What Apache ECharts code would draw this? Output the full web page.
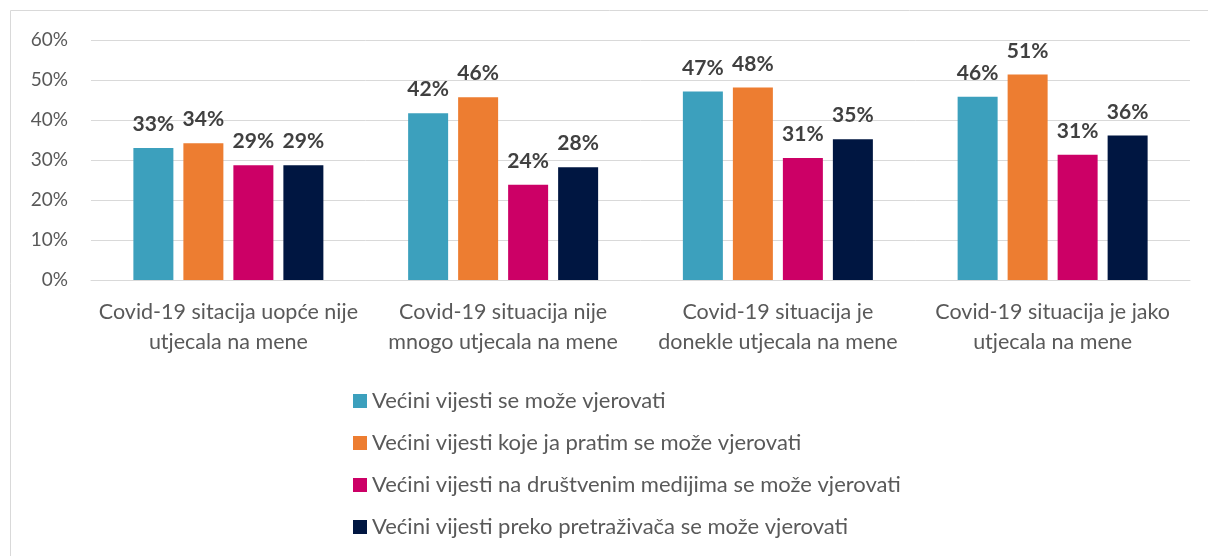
<!DOCTYPE html>
<html>
<head>
<meta charset="utf-8">
<script src="https://cdn.jsdelivr.net/npm/echarts@6/dist/echarts.min.js"></script>
<style>
  html, body { margin: 0; padding: 0; background: #fff; }
  #chart { width: 1208px; height: 556px; }
</style>
</head>
<body>
<div id="chart"></div>
<script>
var categories = [
    'Covid-19 sitacija uopće nije\nutjecala na mene',
    'Covid-19 situacija nije\nmnogo utjecala na mene',
    'Covid-19 situacija je\ndonekle utjecala na mene',
    'Covid-19 situacija je jako\nutjecala na mene'
];
var seriesNames = [
    'Većini vijesti se može vjerovati',
    'Većini vijesti koje ja pratim se može vjerovati',
    'Većini vijesti na društvenim medijima se može vjerovati',
    'Većini vijesti preko pretraživača se može vjerovati'
];
var allNews = [33.0, 41.7, 47.1, 45.8];
var myNews = [34.2, 45.7, 48.1, 51.4];
var socialNews = [28.7, 23.8, 30.5, 31.3];
var searchNews = [28.7, 28.2, 35.2, 36.1];
var colors = ['#3ca0bd', '#ed7d31', '#cc0066', '#001641'];

var font = 'Lato, "Open Sans", sans-serif';
var chart = echarts.init(document.getElementById('chart'));

function makeSeries(name, data, color) {
    return {
        name: name,
        type: 'bar',
        data: data,
        barWidth: 40,
        barGap: '25%',
        itemStyle: { color: color },
        label: {
            show: true,
            position: 'top',
            distance: 13,
            fontFamily: font,
            fontWeight: 'bold',
            fontSize: 21,
            color: '#404040',
            formatter: function (p) { return Math.round(p.value) + '%'; }
        }
    };
}

var option = {
    animation: false,
    graphic: [{
        type: 'rect',
        shape: { x: 10.5, y: 10.5, width: 1220, height: 560 },
        style: { fill: 'none', stroke: '#d9d9d9', lineWidth: 1 },
        silent: true
    }],
    grid: { left: 91, right: 18, top: 40, bottom: 276 },
    legend: {
        orient: 'vertical',
        left: 348,
        top: 385,
        itemWidth: 14,
        itemHeight: 14,
        itemGap: 20,
        icon: 'rect',
        textStyle: { fontFamily: font, fontSize: 22, color: '#595959', lineHeight: 20, padding: [0, 0, 0, 0] },
        data: seriesNames
    },
    xAxis: {
        type: 'category',
        data: categories,
        axisLine: { lineStyle: { color: '#d9d9d9' } },
        axisTick: { show: false },
        axisLabel: {
            interval: 0,
            fontFamily: font,
            fontSize: 21.5,
            lineHeight: 30,
            color: '#595959',
            margin: 17
        }
    },
    yAxis: {
        type: 'value',
        min: 0,
        max: 60,
        interval: 10,
        axisLine: { show: false },
        axisTick: { show: false },
        splitLine: { lineStyle: { color: '#d9d9d9', width: 1 } },
        axisLabel: {
            fontFamily: font,
            fontSize: 19,
            color: '#595959',
            margin: 23,
            formatter: '{value}%'
        }
    },
    series: [
        makeSeries(seriesNames[0], allNews, colors[0]),
        makeSeries(seriesNames[1], myNews, colors[1]),
        makeSeries(seriesNames[2], socialNews, colors[2]),
        makeSeries(seriesNames[3], searchNews, colors[3])
    ]
};

chart.setOption(option);
</script>
</body>
</html>
